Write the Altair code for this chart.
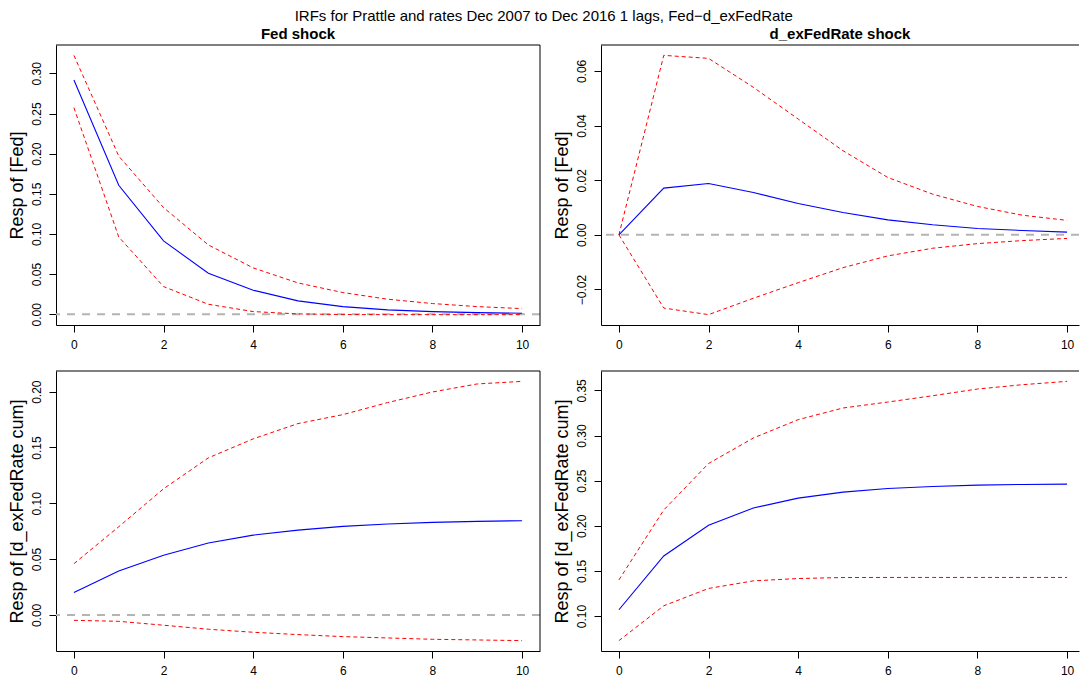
import altair as alt
import pandas as pd

# Forecast horizon (steps after the shock)
horizon = list(range(11))

# Response of Fed to a Fed shock
fed_fed_irf = [0.2917, 0.1606, 0.0913, 0.0510, 0.0299, 0.0166, 0.0095, 0.0054, 0.0033, 0.0020, 0.0012]
fed_fed_lower = [0.2573, 0.0963, 0.0344, 0.0124, 0.0033, 0.0004, -0.0004, -0.0005, -0.0005, -0.0005, -0.0005]
fed_fed_upper = [0.3224, 0.1970, 0.1328, 0.0863, 0.0577, 0.0390, 0.0270, 0.0187, 0.0133, 0.0095, 0.0070]

# Response of Fed to a d_exFedRate shock
rate_fed_irf = [0.0, 0.0171, 0.0188, 0.0155, 0.0115, 0.0082, 0.0055, 0.0037, 0.0023, 0.0016, 0.0010]
rate_fed_lower = [0.0, -0.0268, -0.0292, -0.0232, -0.0175, -0.0120, -0.0077, -0.0049, -0.0032, -0.0021, -0.0013]
rate_fed_upper = [0.0, 0.0657, 0.0646, 0.0540, 0.0424, 0.0308, 0.0210, 0.0149, 0.0104, 0.0072, 0.0053]

# Cumulative response of d_exFedRate to a Fed shock
fed_rate_irf = [0.0200, 0.0393, 0.0534, 0.0644, 0.0715, 0.0760, 0.0793, 0.0814, 0.0829, 0.0838, 0.0844]
fed_rate_lower = [-0.0048, -0.0057, -0.0092, -0.0128, -0.0155, -0.0176, -0.0194, -0.0206, -0.0218, -0.0224, -0.0230]
fed_rate_upper = [0.0459, 0.0790, 0.1130, 0.1407, 0.1577, 0.1714, 0.1794, 0.1902, 0.1997, 0.2069, 0.2092]

# Cumulative response of d_exFedRate to a d_exFedRate shock
rate_rate_irf = [0.1070, 0.1666, 0.2005, 0.2197, 0.2307, 0.2373, 0.2414, 0.2436, 0.2451, 0.2458, 0.2462]
rate_rate_lower = [0.0728, 0.1114, 0.1306, 0.1390, 0.1416, 0.1427, 0.1428, 0.1428, 0.1428, 0.1428, 0.1428]
rate_rate_upper = [0.1401, 0.2175, 0.2690, 0.2973, 0.3176, 0.3305, 0.3371, 0.3441, 0.3515, 0.3563, 0.3600]

x_ticks = [0, 2, 4, 6, 8, 10]
fed_ticks = [0.00, 0.05, 0.10, 0.15, 0.20, 0.25, 0.30]
rate_fed_ticks = [-0.02, 0.00, 0.02, 0.04, 0.06]
fed_rate_ticks = [0.00, 0.05, 0.10, 0.15, 0.20]
rate_rate_ticks = [0.10, 0.15, 0.20, 0.25, 0.30, 0.35]

FONT = "Liberation Sans"
PLOT_H = 280
LEFT_W = 484
RIGHT_W = 478
STEP_PX = LEFT_W / 10.8  # pixels per horizon step


def padded_range(*series):
    vals = [v for s in series for v in s]
    lo, hi = min(vals), max(vals)
    pad = 0.04 * (hi - lo)
    return [lo - pad, hi + pad]


def panel(irf, lower, upper, ytitle, yticks, width, title=None, right_border=True):
    df = pd.DataFrame({
        "h": horizon * 3,
        "value": irf + lower + upper,
        "band": ["irf"] * 11 + ["lower"] * 11 + ["upper"] * 11,
    })
    xmax = -0.4 + width / STEP_PX
    x_enc = alt.X(
        "h:Q",
        scale=alt.Scale(domain=[-0.4, xmax], nice=False, zero=False),
        axis=alt.Axis(values=x_ticks, format="d"),
        title=None,
    )
    y_scale = alt.Scale(domain=padded_range(irf, lower, upper), nice=False, zero=False)
    y_axis = alt.Axis(values=yticks, format=".2f", title=ytitle)

    zero = alt.Chart(pd.DataFrame({"value": [0.0]})).mark_rule(
        color="#b4b4b4", strokeWidth=2, strokeDash=[8, 7], clip=True
    ).encode(y=alt.Y("value:Q", scale=y_scale, axis=y_axis))

    bands = alt.Chart(df).transform_filter(alt.datum.band != "irf").mark_line(
        color="#ff0000", strokeWidth=1, strokeDash=[4, 3], clip=True
    ).encode(x=x_enc, y=alt.Y("value:Q", scale=y_scale, axis=y_axis), detail="band:N")

    line = alt.Chart(df).transform_filter(alt.datum.band == "irf").mark_line(
        color="#0000ff", strokeWidth=1.1, clip=True
    ).encode(x=x_enc, y=alt.Y("value:Q", scale=y_scale, axis=y_axis))

    one = pd.DataFrame({"k": [0]})
    top = alt.Chart(one).mark_rule(color="black", strokeWidth=1).encode(
        x=alt.value(0), x2=alt.value(width), y=alt.value(0)
    )
    layers = [zero, bands, line, top]
    if right_border:
        layers.append(
            alt.Chart(one).mark_rule(color="black", strokeWidth=1).encode(
                x=alt.value(width), y=alt.value(0), y2=alt.value(PLOT_H)
            )
        )
    props = dict(width=width, height=PLOT_H)
    if title:
        props["title"] = alt.TitleParams(
            title, fontSize=15, fontWeight="bold", font=FONT, color="black",
            anchor="middle", offset=3,
        )
    return alt.layer(*layers).properties(**props)


p1 = panel(fed_fed_irf, fed_fed_lower, fed_fed_upper, "Resp of [Fed]", fed_ticks,
           LEFT_W, title="Fed shock")
p2 = panel(rate_fed_irf, rate_fed_lower, rate_fed_upper, "Resp of [Fed]", rate_fed_ticks,
           RIGHT_W, title="d_exFedRate shock", right_border=False)
p3 = panel(fed_rate_irf, fed_rate_lower, fed_rate_upper, "Resp of [d_exFedRate cum]",
           fed_rate_ticks, LEFT_W)
p4 = panel(rate_rate_irf, rate_rate_lower, rate_rate_upper, "Resp of [d_exFedRate cum]",
           rate_rate_ticks, RIGHT_W, right_border=False)

chart = alt.concat(
    p1, p2, p3, p4,
    columns=2,
    spacing=alt.RowColnumber(row=46, column=61),
    bounds="flush",
    title=alt.TitleParams(
        "IRFs for Prattle and rates Dec 2007 to Dec 2016 1 lags, Fed\u2212d_exFedRate",
        fontSize=15, fontWeight="normal", font=FONT, color="black",
        anchor="middle", offset=3,
    ),
    padding={"left": 7, "top": 8, "right": 0, "bottom": 0},
).configure_view(
    stroke=None
).configure_axis(
    domainColor="black",
    domainWidth=1,
    tickColor="black",
    tickSize=7,
    grid=False,
    labelFont=FONT,
    labelFontSize=12,
    labelColor="black",
    titleFont=FONT,
    titleFontSize=18,
    titleFontWeight="normal",
    titleColor="black",
).configure_axisX(
    labelPadding=7,
).configure_axisY(
    labelAngle=270,
    labelAlign="center",
    labelBaseline="bottom",
    labelPadding=6,
    titlePadding=4,
)

chart.save("out.html", embed_options={"renderer": "svg", "actions": False})
